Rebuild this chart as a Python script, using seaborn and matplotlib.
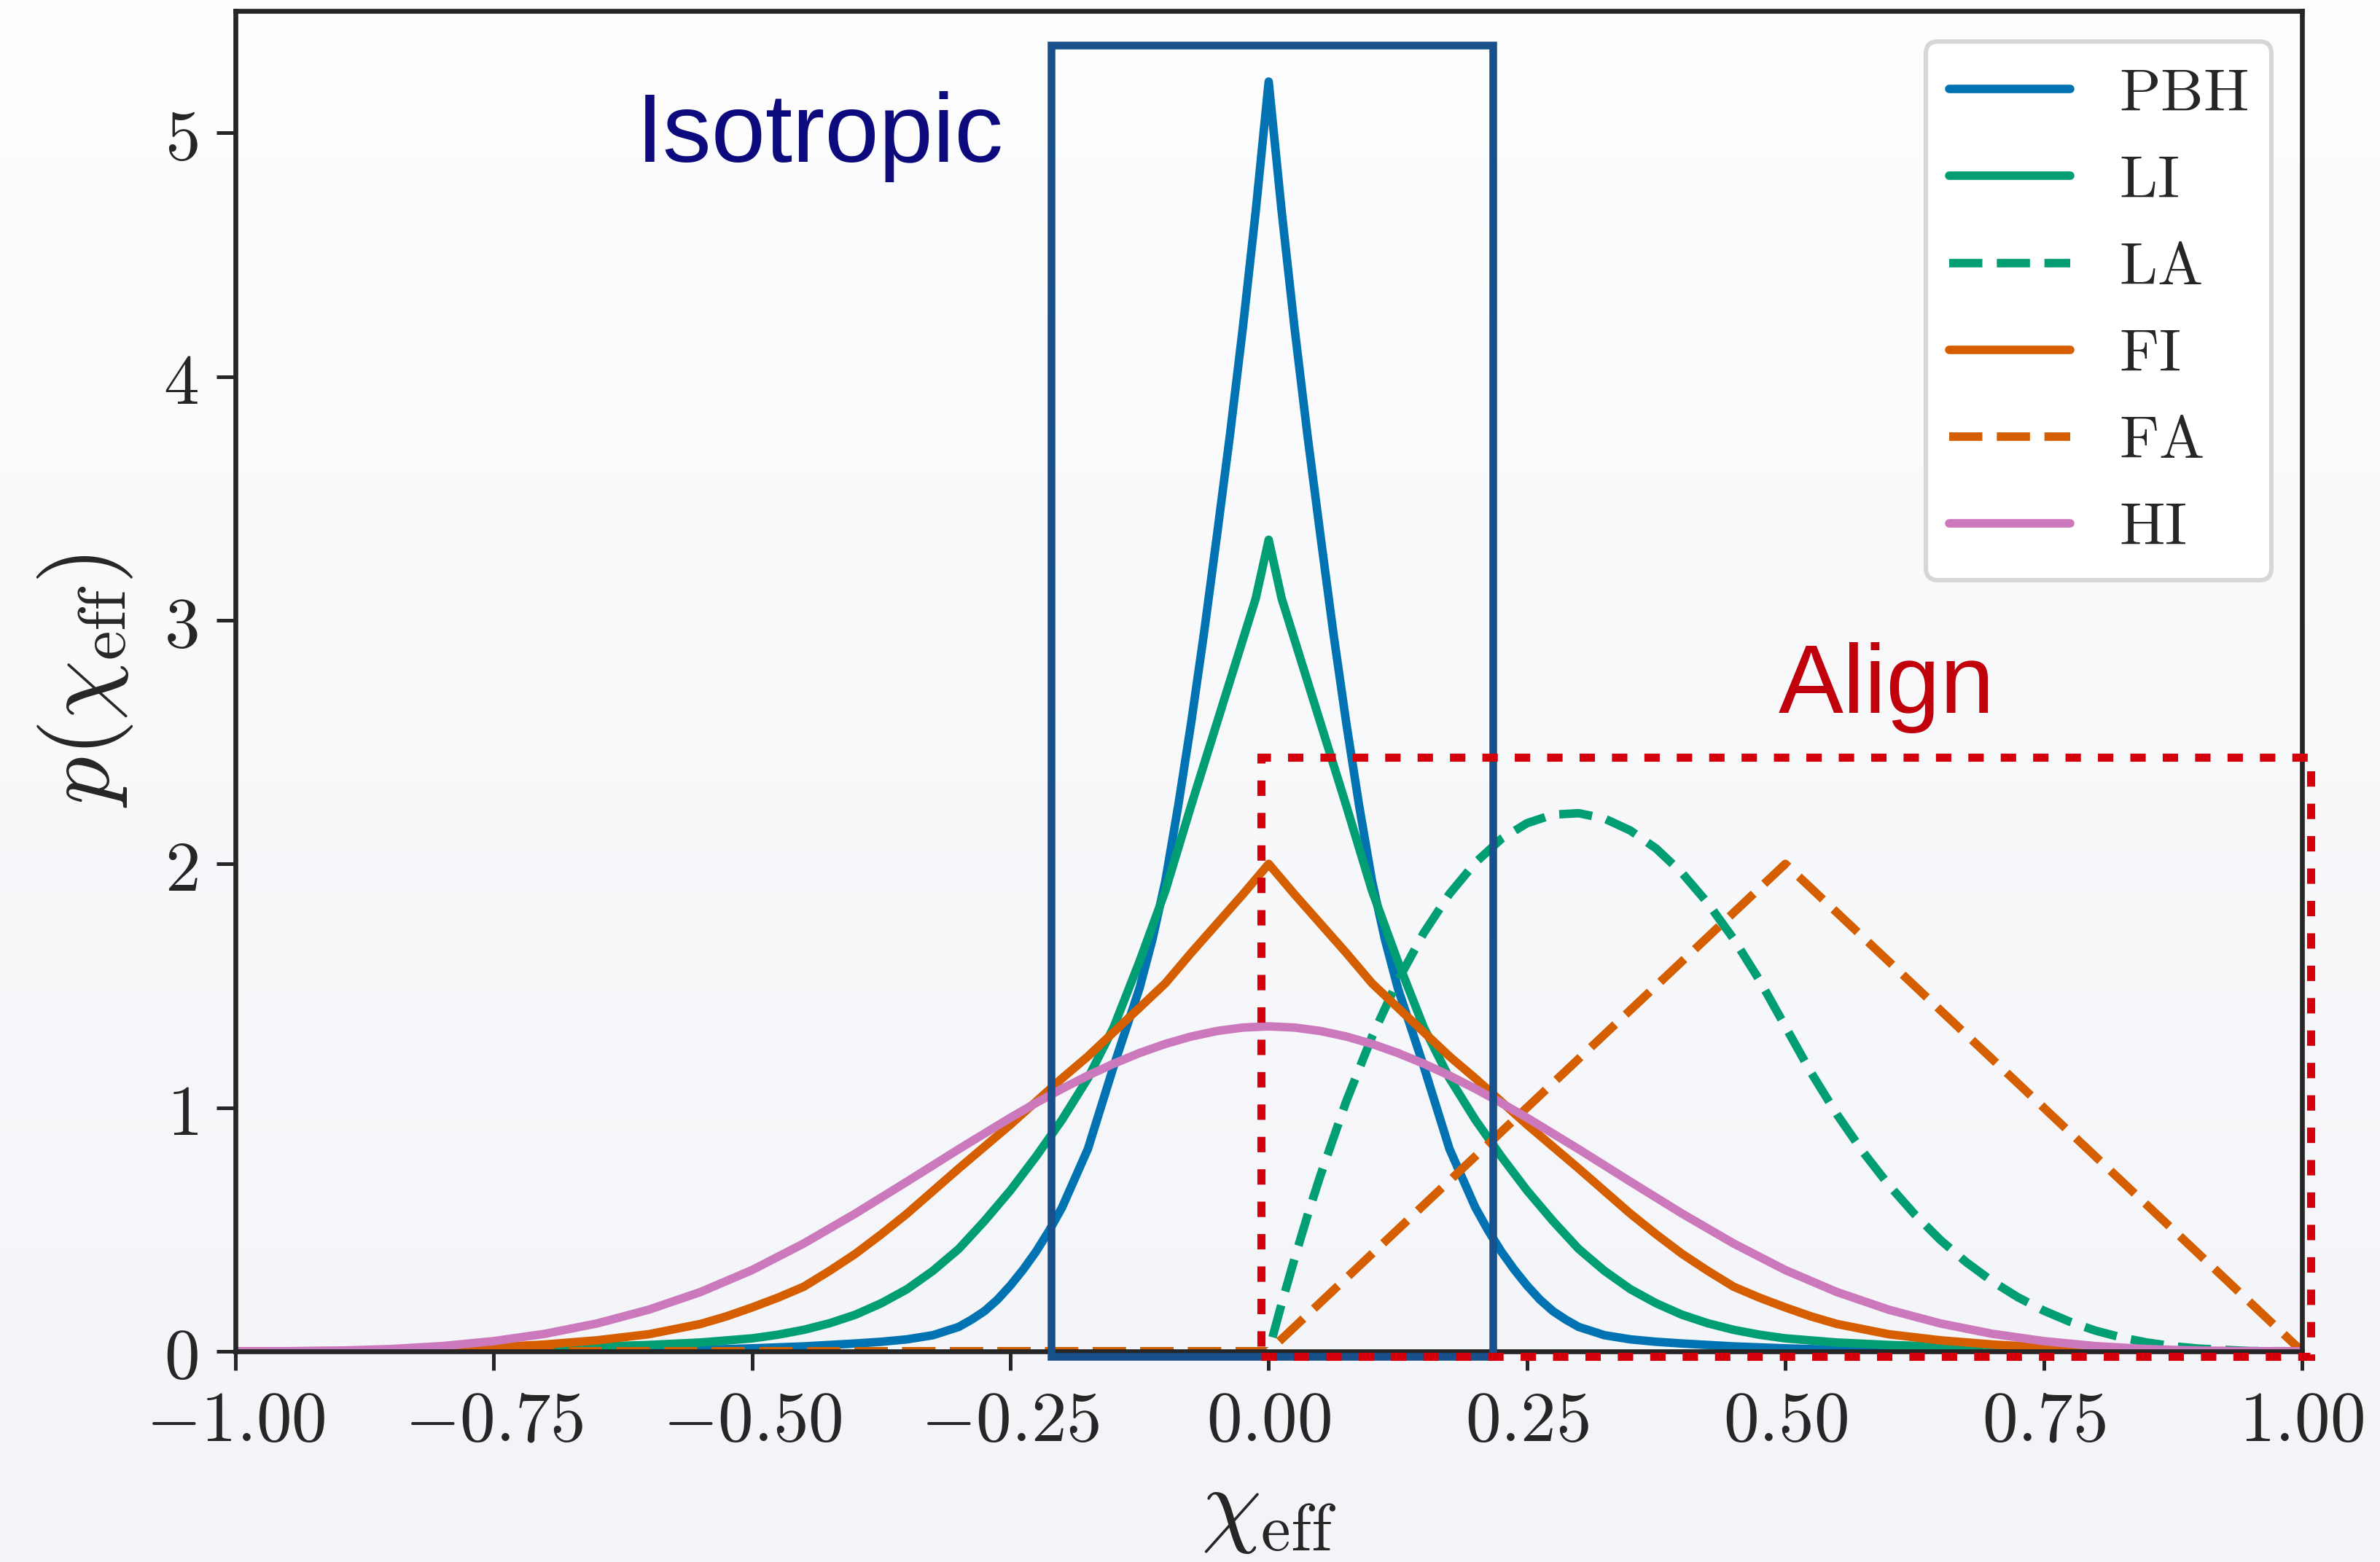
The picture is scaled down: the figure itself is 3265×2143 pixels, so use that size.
import numpy as np
import matplotlib
matplotlib.use("Agg")
import matplotlib.pyplot as plt
from matplotlib.patches import Rectangle
from matplotlib.colors import LinearSegmentedColormap
from matplotlib.ticker import FixedLocator, FuncFormatter
import seaborn as sns

# ---------------- effective-spin distributions p(chi_eff) ----------------
pbh_chi = [-1.0, -0.9, -0.8, -0.7, -0.65, -0.6, -0.55, -0.5, -0.45, -0.4, -0.375, -0.35,
           -0.325, -0.3, -0.2875, -0.275, -0.2625, -0.25, -0.2375, -0.225, -0.2125, -0.2,
           -0.175, -0.15, -0.1375, -0.125,
           -0.1125, -0.1, -0.0875, -0.075, -0.0625, -0.05, -0.0375, -0.025, -0.0125, 0.0,
           0.0125, 0.025, 0.0375, 0.05, 0.0625, 0.075, 0.0875, 0.1, 0.1125, 0.125,
           0.1375, 0.15, 0.175, 0.2, 0.2125, 0.225, 0.2375, 0.25, 0.2625, 0.275, 0.2875,
           0.3, 0.325, 0.35, 0.375, 0.4,
           0.45, 0.5, 0.55, 0.6, 0.65, 0.7, 0.8, 0.9, 1.0]
pbh_p = [0.0, 0.0, 0.0, 0.0, 0.001, 0.003, 0.006, 0.012, 0.02, 0.032, 0.039, 0.049,
         0.066, 0.10, 0.13, 0.165, 0.212, 0.27, 0.336, 0.41, 0.495, 0.59,
         0.83, 1.17, 1.33, 1.49,
         1.69, 1.93, 2.24, 2.58, 2.95, 3.35, 3.76, 4.20, 4.68, 5.21,
         4.68, 4.20, 3.76, 3.35, 2.95, 2.58, 2.24, 1.93, 1.69, 1.49,
         1.33, 1.17, 0.83, 0.59, 0.495, 0.41, 0.336, 0.27, 0.212, 0.165, 0.13,
         0.10, 0.066, 0.049, 0.039, 0.032,
         0.02, 0.012, 0.006, 0.003, 0.001, 0.0, 0.0, 0.0, 0.0]

li_chi = [-1.0, -0.95, -0.9, -0.85, -0.8, -0.75, -0.7, -0.65, -0.6, -0.55, -0.5, -0.475,
          -0.45, -0.425, -0.4, -0.375, -0.35, -0.325, -0.3, -0.275, -0.25, -0.225, -0.2,
          -0.175, -0.15, -0.125, -0.1, -0.075, -0.05, -0.0375, -0.025, -0.0125, 0.0,
          0.0125, 0.025, 0.0375, 0.05, 0.075, 0.1, 0.125, 0.15, 0.175, 0.2, 0.225, 0.25,
          0.275, 0.3, 0.325, 0.35, 0.375, 0.4, 0.425, 0.45, 0.475, 0.5, 0.55, 0.6, 0.65,
          0.7, 0.75, 0.8, 0.85, 0.9, 0.95, 1.0]
li_p = [0.0, 0.0, 0.0, 0.001, 0.003, 0.007, 0.013, 0.019, 0.026, 0.036, 0.053, 0.068,
        0.088, 0.115, 0.15, 0.197, 0.255, 0.33, 0.42, 0.535, 0.66, 0.80, 0.95,
        1.12, 1.33, 1.60, 1.89, 2.24, 2.58, 2.75, 2.92, 3.09, 3.33,
        3.09, 2.92, 2.75, 2.58, 2.24, 1.89, 1.60, 1.33, 1.12, 0.95, 0.80, 0.66,
        0.535, 0.42, 0.33, 0.255, 0.197, 0.15, 0.115, 0.088, 0.068, 0.053, 0.036, 0.026, 0.019,
        0.013, 0.007, 0.003, 0.001, 0.0, 0.0, 0.0]

la_chi = [-1.0, 0.0, 0.0125, 0.025, 0.0375, 0.05, 0.075, 0.1, 0.125, 0.15, 0.175, 0.2,
          0.225, 0.25, 0.275, 0.3, 0.325, 0.35, 0.375, 0.4, 0.425, 0.45, 0.475, 0.5,
          0.525, 0.55, 0.575, 0.6, 0.625, 0.65, 0.675, 0.7, 0.725, 0.75, 0.775, 0.8,
          0.825, 0.85, 0.875, 0.9, 0.95, 1.0]
la_p = [0.0, 0.0, 0.195, 0.380, 0.556, 0.721, 1.025, 1.291, 1.521, 1.716, 1.877, 2.005,
        2.102, 2.167, 2.202, 2.208, 2.186, 2.137, 2.063, 1.963, 1.839, 1.692, 1.523, 1.333,
        1.143, 0.972, 0.819, 0.683, 0.563, 0.457, 0.366, 0.288, 0.222, 0.167, 0.122, 0.085,
        0.057, 0.036, 0.021, 0.011, 0.001, 0.0]

fi_chi = [-1.0, -0.95, -0.9, -0.85, -0.8, -0.75, -0.7, -0.65, -0.6, -0.55, -0.525, -0.5,
          -0.475, -0.45, -0.425, -0.4, -0.375, -0.35, -0.3, -0.25, -0.2, -0.175, -0.15,
          -0.125, -0.1, -0.075, -0.05, -0.025, 0.0, 0.025, 0.05, 0.075, 0.1, 0.125, 0.15,
          0.175, 0.2, 0.25, 0.3, 0.35, 0.375, 0.4, 0.425, 0.45, 0.475, 0.5, 0.525, 0.55,
          0.6, 0.65, 0.7, 0.75, 0.8, 0.85, 0.9, 0.95, 1.0]
fi_p = [0.0, 0.0, 0.001, 0.003, 0.008, 0.016, 0.028, 0.045, 0.07, 0.112, 0.143, 0.18,
        0.22, 0.265, 0.33, 0.40, 0.48, 0.565, 0.75, 0.93, 1.12, 1.21, 1.31,
        1.41, 1.51, 1.635, 1.755, 1.875, 2.0, 1.875, 1.755, 1.635, 1.51, 1.41, 1.31,
        1.21, 1.12, 0.93, 0.75, 0.565, 0.48, 0.40, 0.33, 0.265, 0.22, 0.18, 0.143, 0.112,
        0.07, 0.045, 0.028, 0.016, 0.008, 0.003, 0.001, 0.0, 0.0]

fa_chi = [-1.0, 0.0, 0.5, 1.0]
fa_p = [0.0, 0.0, 2.0, 0.0]

hi_chi = [-1.0, -0.95, -0.9, -0.85, -0.8, -0.75, -0.7, -0.65, -0.6, -0.55, -0.5, -0.45,
          -0.4, -0.35, -0.3, -0.25, -0.225, -0.2, -0.175, -0.15, -0.125, -0.1, -0.075,
          -0.05, -0.025, 0.0, 0.025, 0.05, 0.075, 0.1, 0.125, 0.15, 0.175,
          0.2, 0.225, 0.25, 0.3, 0.35, 0.4, 0.45, 0.5, 0.55, 0.6, 0.65, 0.7, 0.75, 0.8,
          0.85, 0.9, 0.95, 1.0]
hi_p = [0.0, 0.0003, 0.0027, 0.009, 0.0213, 0.0417, 0.072, 0.1143, 0.1707, 0.243, 0.3333,
        0.4423, 0.5653, 0.6963, 0.8293, 0.9583, 1.0194, 1.0773, 1.1313, 1.1803, 1.224,
        1.2613, 1.2917, 1.3143, 1.3285, 1.3333, 1.3285, 1.3143, 1.2917, 1.2613, 1.224,
        1.1803, 1.1313, 1.0773, 1.0194, 0.9583, 0.8293, 0.6963, 0.5653, 0.4423, 0.3333,
        0.243, 0.1707, 0.1143, 0.072, 0.0417, 0.0213, 0.009, 0.0027, 0.0003, 0.0]

model_names = ["PBH", "LI", "LA", "FI", "FA", "HI"]
model_colors = ["#0173b2", "#029e73", "#029e73", "#d55e00", "#d55e00", "#cc78bc"]
model_dashed = [False, False, True, False, True, False]
model_data = [(pbh_chi, pbh_p), (li_chi, li_p), (la_chi, la_p),
              (fi_chi, fi_p), (fa_chi, fa_p), (hi_chi, hi_p)]

x_ticks = [-1.0, -0.75, -0.5, -0.25, 0.0, 0.25, 0.5, 0.75, 1.0]
y_ticks = [0, 1, 2, 3, 4, 5]

# highlighted regions: (x0, x1, y0, y1)
iso_box = (-0.2108, 0.2169, -0.02, 5.36)
align_box = (-0.0072, 1.0085, -0.02, 2.436)

LW = 4.2
DASH = (3.9, 1.7)

# ---------------- style ----------------
sns.set_theme(style="ticks")
plt.rcParams.update({
    "font.family": ["DejaVu Serif"],
    "mathtext.fontset": "cm",
    "axes.edgecolor": "#262626",
    "axes.linewidth": 2.4,
    "xtick.color": "#262626",
    "ytick.color": "#262626",
    "xtick.major.size": 9.5,
    "ytick.major.size": 9.5,
    "xtick.major.width": 1.8,
    "ytick.major.width": 1.8,
    "xtick.major.pad": 8,
    "ytick.major.pad": 9,
    "lines.linewidth": LW,
    "lines.solid_capstyle": "round",
    "lines.solid_joinstyle": "round",
})

fig = plt.figure(figsize=(16.33, 10.715), dpi=200)

# soft vertical wash behind the plot
bg = fig.add_axes([0, 0, 1, 1], zorder=-10)
grad = np.linspace(0, 1, 256).reshape(-1, 1)
bg.imshow(grad, aspect="auto", origin="upper", extent=[0, 1, 0, 1],
          cmap=LinearSegmentedColormap.from_list("wash", ["#fefeff", "#f3f4f8"]))
bg.set_axis_off()

ax = fig.add_axes([0.0989, 0.1349, 0.8680, 0.8581])
ax.set_facecolor("none")

for name, (xs, ys), color, dashed in zip(model_names, model_data, model_colors, model_dashed):
    n_before = len(ax.lines)
    sns.lineplot(x=xs, y=ys, color=color, linewidth=LW, ax=ax, estimator=None,
                 sort=False, legend=False)
    for line in ax.lines[n_before:]:
        line.set_linewidth(LW)
        if dashed:
            line.set_dashes(DASH)
            line.set_dash_capstyle("butt")
        line.set_label(name)

handles = list(ax.lines[:len(model_names)])

ax.set_xlim(-1.0, 1.0)
ax.set_ylim(0.0, 5.5)
ax.xaxis.set_major_locator(FixedLocator(x_ticks))
ax.yaxis.set_major_locator(FixedLocator(y_ticks))
ax.xaxis.set_major_formatter(FuncFormatter(lambda v, pos: f"${v:.2f}$"))
ax.yaxis.set_major_formatter(FuncFormatter(lambda v, pos: f"${v:.0f}$"))
ax.tick_params(axis="both", labelsize=35)

ax.set_xlabel(r"$\chi_{\rm eff}$", fontsize=47, labelpad=4)
ax.set_ylabel(r"$p(\chi_{\rm eff})$", fontsize=47, labelpad=14)

# highlighted regions
x0, x1, y0, y1 = iso_box
ax.add_patch(Rectangle((x0, y0), x1 - x0, y1 - y0, fill=False, edgecolor="#17508a",
                       lw=3.8, zorder=4, clip_on=False))
x0, x1, y0, y1 = align_box
ax.add_patch(Rectangle((x0, y0), x1 - x0, y1 - y0, fill=False, edgecolor="#d3000b",
                       lw=4.0, linestyle=(0, (1.9, 2.1)), capstyle="butt",
                       zorder=5, clip_on=False))

ax.text(-0.434, 4.88, "Isotropic", ha="center", va="baseline", fontsize=48,
        color="#0c0a7c", family="Liberation Sans", zorder=6)
ax.text(0.598, 2.62, "Align", ha="center", va="baseline", fontsize=48,
        color="#c0000b", family="Liberation Sans", zorder=6)

leg = ax.legend(handles=handles, labels=[rf"$\mathrm{{{n}}}$" for n in model_names],
                loc="upper right", fontsize=30, frameon=True, fancybox=True,
                framealpha=1.0, facecolor="white", edgecolor="#d6d6d6",
                handlelength=2.0, handletextpad=0.8, labelspacing=0.47,
                borderpad=0.38, borderaxespad=0.5)
leg.get_frame().set_linewidth(2.2)
for lh, dashed in zip(leg.get_lines(), model_dashed):
    lh.set_linewidth(LW)
    if dashed:
        lh.set_dashes(DASH)
for t in leg.get_texts():
    t.set_color("#262626")

fig.savefig("out.png", dpi=200)
